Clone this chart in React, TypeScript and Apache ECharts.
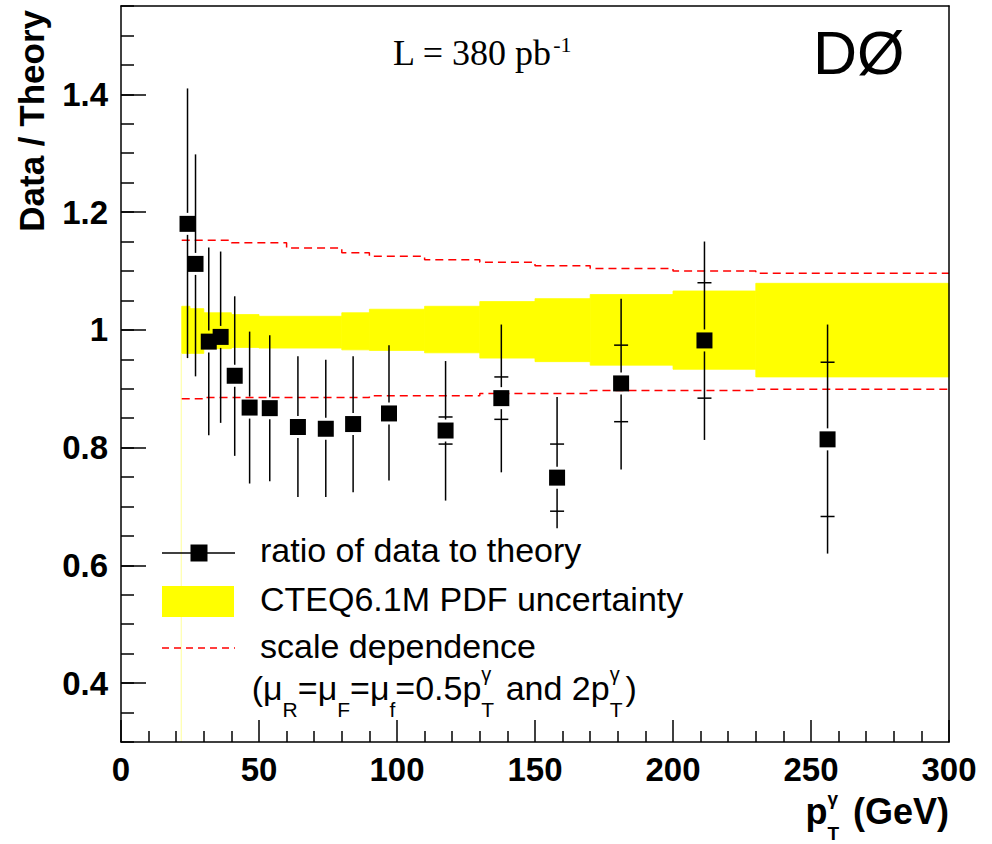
import React, { useEffect, useRef } from 'react';
import * as echarts from 'echarts';

// ---------------- data ----------------
const ptX = [24.1, 27.0, 31.8, 36.1, 41.2, 46.6, 53.9, 64.1, 74.2, 84.1, 97.1, 117.6, 137.8, 158.0, 181.2, 211.4, 256.0];
const ratio = [1.180, 1.112, 0.980, 0.988, 0.922, 0.868, 0.867, 0.835, 0.832, 0.840, 0.858, 0.829, 0.884, 0.749, 0.909, 0.982, 0.814];
const errUp = [0.230, 0.186, 0.160, 0.145, 0.135, 0.129, 0.124, 0.120, 0.117, 0.115, 0.116, 0.118, 0.125, 0.137, 0.144, 0.168, 0.195];
const errDown = [0.228, 0.191, 0.159, 0.146, 0.136, 0.129, 0.124, 0.119, 0.116, 0.116, 0.114, 0.119, 0.126, 0.086, 0.146, 0.169, 0.194];
const statErr = [0.004, 0.004, 0.004, 0.005, 0.005, 0.005, 0.006, 0.006, 0.007, 0.008, 0.010, 0.023, 0.036, 0.057, 0.065, 0.098, 0.131];

const pdfEdges = [22, 25, 30, 40, 50, 80, 90, 110, 130, 150, 170, 200, 230, 300];
const pdfHi = [1.040, 1.036, 1.029, 1.026, 1.023, 1.029, 1.035, 1.040, 1.048, 1.053, 1.060, 1.066, 1.079];
const pdfLo = [0.960, 0.960, 0.968, 0.970, 0.969, 0.966, 0.965, 0.961, 0.952, 0.946, 0.940, 0.933, 0.920];

const scaleEdges = [22, 30, 40, 60, 80, 90, 110, 130, 150, 170, 200, 230, 300];
const scaleHi = [1.152, 1.152, 1.148, 1.139, 1.131, 1.125, 1.119, 1.115, 1.109, 1.104, 1.100, 1.096];
const scaleLo = [0.883, 0.885, 0.885, 0.885, 0.885, 0.888, 0.888, 0.892, 0.892, 0.897, 0.897, 0.899];

const xMin = 0;
const xMax = 300;
const xInterval = 50;
const yMin = 0.3;
const yMax = 1.55;
const yMinorInterval = 0.05;
const yTickValues = [0.4, 0.6, 0.8, 1.0, 1.2, 1.4];
const yTickLabels = ['0.4', '0.6', '0.8', '1', '1.2', '1.4'];

const legendLabels = ['ratio of data to theory', 'CTEQ6.1M PDF uncertainty', 'scale dependence'];

// ---------------- text helpers ----------------
const SANS = '"Liberation Sans", Arial, Helvetica, sans-serif';
const SERIF = '"Liberation Serif", "Times New Roman", serif';

type Seg = { t: string; s: number; dy?: number; dx?: number; stack?: boolean };
let mctx: CanvasRenderingContext2D | null = null;
function textWidth(t: string, s: number, fam: string, wt: string) {
  if (!mctx) mctx = document.createElement('canvas').getContext('2d');
  mctx!.font = `${wt} ${s}px ${fam}`;
  return mctx!.measureText(t).width;
}
function layoutLine(segs: Seg[], x: number, baseline: number, fam: string, wt: string, align: 'left' | 'right', k = 0.3465) {
  const pos: { x: number; seg: Seg }[] = [];
  let cx = 0;
  let prevX = 0;
  let prevW = 0;
  for (const seg of segs) {
    const w = textWidth(seg.t, seg.s, fam, wt);
    if (seg.stack) {
      pos.push({ x: prevX, seg });
      const adv = Math.max(prevW, w);
      cx = prevX + adv;
      prevW = adv;
    } else {
      const sx = cx + (seg.dx || 0);
      pos.push({ x: sx, seg });
      prevX = sx;
      prevW = w;
      cx = sx + w;
    }
  }
  const ox = align === 'right' ? x - cx : x;
  return pos.map((p) => ({
    type: 'text',
    x: ox + p.x,
    y: baseline + (p.seg.dy || 0) - k * p.seg.s,
    silent: true,
    z: 20,
    style: {
      text: p.seg.t,
      fontSize: p.seg.s,
      fontFamily: fam,
      fontWeight: wt,
      fill: '#000',
      align: 'left',
      verticalAlign: 'middle',
      textAlign: 'left',
      textVerticalAlign: 'middle',
    },
  }));
}

function buildOption() {
  const axisLineStyle = { color: '#000', width: 1.5 };
  const graphics: any[] = [];

  // y axis title (rotated)
  graphics.push({
    type: 'text',
    x: 31,
    y: 10,
    rotation: Math.PI / 2,
    silent: true,
    style: {
      text: 'Data / Theory',
      fontSize: 35,
      fontFamily: SANS,
      fontWeight: 'bold',
      fill: '#000',
      align: 'right',
      verticalAlign: 'middle',
      textAlign: 'right',
      textVerticalAlign: 'middle',
    },
  });
  // x axis title
  graphics.push(
    ...layoutLine(
      [
        { t: 'p', s: 36 },
        { t: 'γ', s: 19, dy: -19, dx: 0 },
        { t: 'T', s: 19, dy: 16, stack: true },
        { t: ' (GeV)', s: 36, dx: 4 },
      ],
      949, 824, SANS, 'bold', 'right'
    )
  );
  // luminosity
  graphics.push(
    ...layoutLine(
      [
        { t: 'L = 380 pb', s: 36 },
        { t: '-1', s: 22, dy: -13, dx: 1 },
      ],
      393, 65, SERIF, 'normal', 'left', 0.3375
    )
  );
  // experiment
  graphics.push(...layoutLine([{ t: 'DØ', s: 61 }], 813, 74, SANS, 'normal', 'left'));

  // legend symbols
  graphics.push({ type: 'line', silent: true, z: 20, shape: { x1: 162, y1: 553, x2: 235, y2: 553 }, style: { stroke: '#000', lineWidth: 1.5 } });
  graphics.push({ type: 'rect', silent: true, z: 21, shape: { x: 190.5, y: 544.5, width: 17, height: 17 }, style: { fill: '#000' } });
  graphics.push({ type: 'rect', silent: true, z: 20, shape: { x: 162, y: 586, width: 72, height: 31 }, style: { fill: '#ffff00' } });
  graphics.push({ type: 'line', silent: true, z: 20, shape: { x1: 162, y1: 648, x2: 235, y2: 648 }, style: { stroke: '#ff0000', lineWidth: 1.5, lineDash: [7, 5] } });
  // legend texts
  const legBase = [561.7, 610.7, 657.3];
  legendLabels.forEach((t, i) => {
    graphics.push(...layoutLine([{ t, s: 34 }], 260, legBase[i], SANS, 'normal', 'left'));
  });
  graphics.push(
    ...layoutLine(
      [
        { t: '(μ', s: 34 },
        { t: 'R', s: 21, dy: 17, dx: 0 },
        { t: '=μ', s: 34 },
        { t: 'F', s: 21, dy: 17, dx: 0 },
        { t: '=μ', s: 34 },
        { t: 'f', s: 21, dy: 17, dx: 0 },
        { t: '=0.5p', s: 34 },
        { t: 'γ', s: 20, dy: -19, dx: 0 },
        { t: 'T', s: 21, dy: 17, stack: true },
        { t: ' and 2p', s: 34, dx: 2 },
        { t: 'γ', s: 20, dy: -19, dx: 0 },
        { t: 'T', s: 21, dy: 17, stack: true },
        { t: ')', s: 34, dx: 3 },
      ],
      251.7, 700, SANS, 'normal', 'left'
    )
  );

  const bandData = pdfLo.map((lo, i) => [pdfEdges[i], pdfEdges[i + 1], lo, pdfHi[i]]);
  const pointData = ptX.map((x, i) => [x, ratio[i], errUp[i], errDown[i], statErr[i]]);
  const stepData = (vals: number[]) => scaleEdges.map((e, i) => [e, vals[Math.min(i, vals.length - 1)]]);

  return {
    animation: false,
    backgroundColor: '#fff',
    grid: { left: 121, right: 43, top: 6, bottom: 102, containLabel: false, outerBoundsMode: 'none' },
    xAxis: [
      {
        type: 'value',
        min: xMin,
        max: xMax,
        interval: xInterval,
        position: 'bottom',
        z: 5,
        axisLine: { show: true, lineStyle: axisLineStyle },
        axisTick: { show: true, inside: true, length: 22, lineStyle: axisLineStyle },
        minorTick: { show: true, splitNumber: 5, length: 11, lineStyle: axisLineStyle },
        axisLabel: {
          show: true,
          margin: 11,
          fontSize: 33,
          fontWeight: 'bold',
          fontFamily: SANS,
          color: '#000',
          showMinLabel: true,
          showMaxLabel: true,
          formatter: (v: number) => String(v),
        },
        splitLine: { show: false },
        minorSplitLine: { show: false },
      },
      {
        type: 'value',
        min: xMin,
        max: xMax,
        position: 'top',
        z: 5,
        axisLine: { show: true, lineStyle: axisLineStyle },
        axisTick: { show: false },
        axisLabel: { show: false },
        splitLine: { show: false },
      },
    ],
    yAxis: [
      {
        type: 'value',
        min: yMin,
        max: yMax,
        position: 'left',
        z: 5,
        axisLine: { show: true, lineStyle: axisLineStyle },
        axisTick: { show: true, inside: true, length: 25, lineStyle: axisLineStyle, customValues: yTickValues },
        axisLabel: {
          show: true,
          customValues: yTickValues,
          margin: 13,
          fontSize: 33,
          fontWeight: 'bold',
          fontFamily: SANS,
          color: '#000',
          formatter: (v: number) => {
            const i = yTickValues.findIndex((t) => Math.abs(t - v) < 1e-6);
            return i >= 0 ? yTickLabels[i] : '';
          },
        },
        splitLine: { show: false },
      },
      {
        type: 'value',
        min: yMin,
        max: yMax,
        interval: yMinorInterval,
        position: 'left',
        z: 5,
        axisLine: { show: false },
        axisTick: { show: true, inside: true, length: 13, lineStyle: axisLineStyle },
        axisLabel: { show: false },
        splitLine: { show: false },
      },
      {
        type: 'value',
        min: yMin,
        max: yMax,
        position: 'right',
        z: 5,
        axisLine: { show: true, lineStyle: axisLineStyle },
        axisTick: { show: false },
        axisLabel: { show: false },
        splitLine: { show: false },
      },
    ],
    series: [
      {
        type: 'custom',
        name: 'CTEQ6.1M PDF uncertainty',
        xAxisIndex: 0,
        yAxisIndex: 0,
        silent: true,
        z: 1,
        data: bandData,
        encode: { x: [0, 1], y: [2, 3] },
        renderItem: (params: any, api: any) => {
          const p0 = api.coord([api.value(0), api.value(3)]);
          const p1 = api.coord([api.value(1), api.value(2)]);
          const children: any[] = [
            {
              type: 'rect',
              shape: { x: p0[0], y: p0[1], width: p1[0] - p0[0], height: p1[1] - p0[1] },
              style: { fill: '#ffff00', stroke: '#ffff00', lineWidth: 0.8 },
            },
          ];
          if (params.dataIndex === 0) {
            const b = api.coord([api.value(0), yMin]);
            children.push({
              type: 'line',
              shape: { x1: p0[0] - 0.5, y1: p1[1], x2: p0[0] - 0.5, y2: b[1] },
              style: { stroke: '#ffff99', lineWidth: 1 },
            });
          }
          return { type: 'group', children };
        },
      },
      {
        type: 'line',
        name: 'scale dependence up',
        xAxisIndex: 0,
        yAxisIndex: 0,
        silent: true,
        z: 3,
        step: 'end',
        symbol: 'none',
        data: stepData(scaleHi),
        lineStyle: { color: '#ff0000', width: 1.5, type: [8, 5] },
      },
      {
        type: 'line',
        name: 'scale dependence down',
        xAxisIndex: 0,
        yAxisIndex: 0,
        silent: true,
        z: 3,
        step: 'end',
        symbol: 'none',
        data: stepData(scaleLo),
        lineStyle: { color: '#ff0000', width: 1.5, type: [8, 5] },
      },
      {
        type: 'custom',
        name: 'ratio of data to theory',
        xAxisIndex: 0,
        yAxisIndex: 0,
        silent: true,
        z: 4,
        data: pointData,
        encode: { x: 0, y: 1 },
        renderItem: (params: any, api: any) => {
          const x = api.value(0);
          const y = api.value(1);
          const c = api.coord([x, y]);
          const top = api.coord([x, y + api.value(2)]);
          const bot = api.coord([x, y - api.value(3)]);
          const st = api.value(4);
          const sTop = api.coord([x, y + st]);
          const sBot = api.coord([x, y - st]);
          const half = 8;
          const gap = 3;
          const ls = { stroke: '#000', lineWidth: 1.5 };
          const children: any[] = [];
          if (top[1] < c[1] - half - gap) {
            children.push({ type: 'line', shape: { x1: c[0], y1: c[1] - half - gap, x2: c[0], y2: top[1] }, style: ls });
          }
          if (bot[1] > c[1] + half + gap) {
            children.push({ type: 'line', shape: { x1: c[0], y1: c[1] + half + gap, x2: c[0], y2: bot[1] }, style: ls });
          }
          if (c[1] - sTop[1] > half + 1) {
            children.push({ type: 'line', shape: { x1: c[0] - 7, y1: sTop[1], x2: c[0] + 7, y2: sTop[1] }, style: ls });
          }
          if (sBot[1] - c[1] > half + 1) {
            children.push({ type: 'line', shape: { x1: c[0] - 7, y1: sBot[1], x2: c[0] + 7, y2: sBot[1] }, style: ls });
          }
          children.push({ type: 'rect', shape: { x: c[0] - half, y: c[1] - half, width: 2 * half, height: 2 * half }, style: { fill: '#000' } });
          return { type: 'group', children };
        },
      },
    ],
    graphic: { elements: graphics },
  };
}

export default function App() {
  const ref = useRef<HTMLDivElement>(null);
  useEffect(() => {
    document.body.style.margin = '0';
    const chart = echarts.init(ref.current!, null, { renderer: 'svg', width: 992, height: 844 });
    chart.setOption(buildOption() as any);
    return () => chart.dispose();
  }, []);
  return (
    <div
      ref={ref}
      style={{ width: 992, height: 844, position: 'absolute', left: 0, top: 0, background: '#fff' }}
    />
  );
}
